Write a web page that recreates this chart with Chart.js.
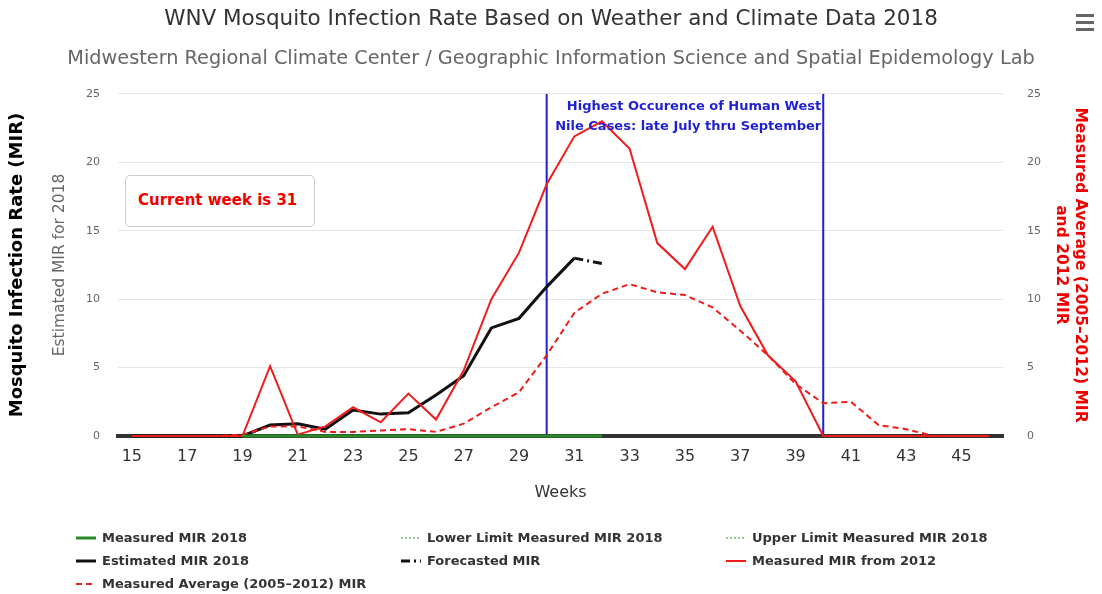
<!DOCTYPE html>
<html>
<head>
<meta charset="utf-8">
<script src="https://cdn.jsdelivr.net/npm/chart.js@4.4.1/dist/chart.umd.min.js"></script>
<style>
    html, body { margin: 0; padding: 0; background: #fff; }
    #wrap { position: relative; width: 1102px; height: 594px; font-family: "DejaVu Sans", sans-serif; }
    #chart { position: absolute; left: 0; top: 0; }
    #menu { position: absolute; left: 1076px; top: 14px; width: 18px; }
    #menu div { height: 3px; background: #666; margin-bottom: 4px; }
    #curweek { position: absolute; left: 125px; top: 175px; width: 190px; height: 52px; border: 1px solid #ccc;
        border-radius: 5px; box-sizing: border-box; color: #e00; font-weight: bold; font-size: 15px; line-height: 48px; padding-left: 12px; background: #fff; }
    #legend { position: absolute; left: 76px; top: 530px; width: 1000px; }
    .lg { position: absolute; font-size: 13px; font-weight: bold; color: #333; white-space: nowrap; }
    .lg svg { vertical-align: middle; margin-right: 6px; margin-top: -2px; }
</style>
</head>
<body>
<div id="wrap">
    <canvas id="chart" width="1102" height="594"></canvas>
    <div id="menu"><div></div><div></div><div></div></div>
    <div id="curweek">Current week is 31</div>
    <div id="legend"></div>
</div>
<script>
const weeks = ['15','16','17','18','19','20','21','22','23','24','25','26','27','28','29','30',
    '31','32','33','34','35','36','37','38','39','40','41','42','43','44','45','46'];

// green, zero from week 19 to 32
const measured2018 = [null,null,null,null,0,0,0,0,0,0,0,0,0,0,0,0,0,0,
    null,null,null,null,null,null,null,null,null,null,null,null,null,null];
const lowerLimit2018 = measured2018.slice();
const upperLimit2018 = measured2018.slice();

const estimated2018 = [0,0,0,0,0,0.8,0.9,0.5,1.9,1.6,1.7,3.0,4.4,7.9,8.6,10.9,13.0,
    null,null,null,null,null,null,null,null,null,null,null,null,null,null,null];
const forecasted = [null,null,null,null,null,null,null,null,null,null,null,null,null,null,null,null,
    13.0,12.6,null,null,null,null,null,null,null,null,null,null,null,null,null,null];
const measured2012 = [0,0,0,0,0,5.1,0.1,0.7,2.1,1.0,3.1,1.2,4.8,10.0,13.4,18.4,21.9,23.0,
    21.0,14.1,12.2,15.3,9.5,5.9,4.0,0,0,0,0,0,0,0];
const average0512 = [0,0,0,0,0.1,0.7,0.7,0.3,0.3,0.4,0.5,0.3,0.9,2.1,3.2,5.9,9.0,10.4,
    11.1,10.5,10.3,9.4,7.7,5.9,3.8,2.4,2.5,0.8,0.5,0,0,0];

const yTicks = [0, 5, 10, 15, 20, 25];
const plotLineWeeks = ['30', '40'];
const bandText = ['Highest Occurence of Human West', 'Nile Cases: late July thru September'];

const plotLines = {
    id: 'plotLines',
    beforeDatasetsDraw(chart) {
        const {ctx, chartArea, scales} = chart;
        ctx.save();
        ctx.strokeStyle = '#1f1fd6';
        ctx.lineWidth = 2;
        plotLineWeeks.forEach(w => {
            const x = scales.x.getPixelForValue(weeks.indexOf(w));
            ctx.beginPath();
            ctx.moveTo(x, chartArea.top);
            ctx.lineTo(x, chartArea.bottom);
            ctx.stroke();
        });
        ctx.restore();
    },
    afterDatasetsDraw(chart) {
        const {ctx, chartArea, scales} = chart;
        const x = scales.x.getPixelForValue(weeks.indexOf(plotLineWeeks[1])) - 2;
        ctx.save();
        ctx.fillStyle = '#1f1fd6';
        ctx.font = 'bold 13px "DejaVu Sans"';
        ctx.textAlign = 'right';
        ctx.textBaseline = 'middle';
        bandText.forEach((t, i) => ctx.fillText(t, x, chartArea.top + 13 + i * 20));
        ctx.restore();
    }
};

const datasets = [
    { label: 'Measured MIR 2018', data: measured2018, borderColor: '#2a8a2a', borderWidth: 3, order: 1 },
    { label: 'Lower Limit Measured MIR 2018', data: lowerLimit2018, borderColor: '#8fc98f', borderWidth: 1, borderDash: [2, 2], order: 2 },
    { label: 'Upper Limit Measured MIR 2018', data: upperLimit2018, borderColor: '#8fc98f', borderWidth: 1, borderDash: [2, 2], order: 2 },
    { label: 'Estimated MIR 2018', data: estimated2018, borderColor: '#111', borderWidth: 3, order: 5 },
    { label: 'Forecasted MIR', data: forecasted, borderColor: '#111', borderWidth: 3, borderDash: [9, 4, 2, 4], order: 4 },
    { label: 'Measured MIR from 2012', data: measured2012, borderColor: '#ee1c1c', borderWidth: 2, yAxisID: 'y1', order: 3 },
    { label: 'Measured Average (2005\u20132012) MIR', data: average0512, borderColor: '#ee1c1c', borderWidth: 2, borderDash: [6, 4], yAxisID: 'y1', order: 3 }
];

datasets.forEach(d => {
    d.pointRadius = 0;
    d.pointHoverRadius = 0;
    d.tension = 0;
    d.fill = false;
    d.spanGaps = false;
    d.clip = 4;
});

const chart = new Chart(document.getElementById('chart'), {
    type: 'line',
    data: { labels: weeks, datasets: datasets },
    options: {
        responsive: false,
        animation: false,
        layout: { padding: { left: 0, right: 0, top: 0, bottom: 88 } },
        plugins: {
            legend: { display: false },
            tooltip: { enabled: false },
            title: { display: true, text: 'WNV Mosquito Infection Rate Based on Weather and Climate Data 2018',
                color: '#333', font: { family: 'DejaVu Sans', size: 21.5, weight: 'normal' }, padding: { top: 7, bottom: 15 } },
            subtitle: { display: true, text: 'Midwestern Regional Climate Center / Geographic Information Science and Spatial Epidemology Lab',
                color: '#666', font: { family: 'DejaVu Sans', size: 19.3 }, padding: { bottom: 23 } }
        },
        scales: {
            x: {
                offset: true,
                afterFit: s => { s.height = 70; },
                grid: { display: false, drawTicks: false },
                border: { display: true, color: '#333', width: 4 },
                ticks: { autoSkip: false, maxRotation: 0, color: '#333', font: { family: 'DejaVu Sans', size: 16 }, padding: 11,
                    callback: (v, i) => (Number(weeks[i]) - 15) % 2 === 0 ? weeks[i] : '' },
                title: { display: true, text: 'Weeks', color: '#333', font: { family: 'DejaVu Sans', size: 16 }, padding: { bottom: 4 } }
            },
            y: {
                position: 'left',
                min: 0, max: 25,
                afterBuildTicks: s => { s.ticks = yTicks.map(v => ({ value: v })); },
                afterFit: s => { s.width = 82; },
                grid: { color: '#e6e6e6', drawTicks: false },
                border: { display: false },
                ticks: { color: '#666', font: { family: 'DejaVu Sans', size: 11 }, padding: 18 },
                title: { display: true, text: 'Estimated MIR for 2018', color: '#666', font: { family: 'DejaVu Sans', size: 15.5 }, padding: { top: 15 } }
            },
            yOuter: {
                position: 'left',
                weight: 2,
                min: 0, max: 25,
                afterFit: s => { s.width = 36; },
                grid: { display: false, drawTicks: false },
                border: { display: false },
                ticks: { display: false },
                title: { display: true, text: 'Mosquito Infection Rate (MIR)', color: '#000', font: { family: 'DejaVu Sans', size: 18, weight: 'bold' }, padding: { top: 7 } }
            },
            y1: {
                position: 'right',
                min: 0, max: 25,
                afterBuildTicks: s => { s.ticks = yTicks.map(v => ({ value: v })); },
                afterFit: s => { s.width = 99; },
                grid: { display: false, drawTicks: false },
                border: { display: false },
                ticks: { color: '#666', font: { family: 'DejaVu Sans', size: 11 }, padding: 24 },
                title: { display: true, text: ['Measured Average (2005\u20132012) MIR', 'and 2012 MIR'], color: '#e00',
                    font: { family: 'DejaVu Sans', size: 15.5, weight: 'bold' }, padding: { top: 13 } }
            }
        }
    },
    plugins: [plotLines]
});

// legend in three columns like the original
const legendCols = [0, 325, 650];
const legendEl = document.getElementById('legend');
chart.data.datasets.forEach((d, n) => {
    const item = document.createElement('div');
    item.className = 'lg';
    item.style.left = legendCols[n % 3] + 'px';
    item.style.top = Math.floor(n / 3) * 23 + 'px';
    const dash = d.borderDash ? d.borderDash.join(',') : 'none';
    const w = Math.max(d.borderWidth, 2);
    item.innerHTML = '<svg width="20" height="10"><line x1="0" y1="5" x2="20" y2="5" stroke="' + d.borderColor +
        '" stroke-width="' + w + '" stroke-dasharray="' + dash + '"/></svg>' + d.label;
    legendEl.appendChild(item);
});
</script>
</body>
</html>
